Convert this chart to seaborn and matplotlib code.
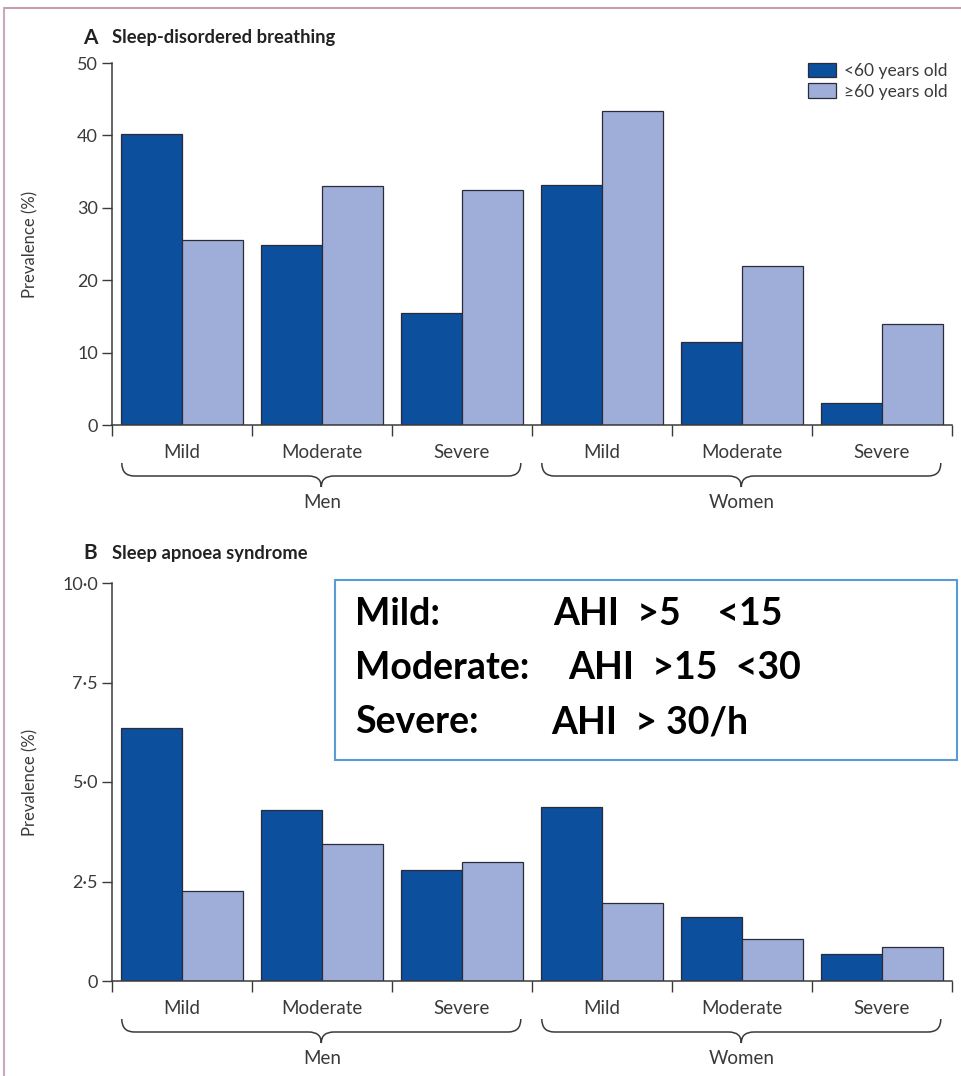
import numpy as np
import pandas as pd
import matplotlib
matplotlib.use('Agg')
import matplotlib.pyplot as plt
import seaborn as sns
from matplotlib.path import Path
from matplotlib.patches import PathPatch, Patch, Rectangle
from matplotlib.lines import Line2D
from matplotlib.ticker import FuncFormatter

# data
groups = ['Men', 'Women']
severities = ['Mild', 'Moderate', 'Severe']
ages = ['<60 years old', '≥60 years old']

sdb_young = [40.2, 24.8, 15.5, 33.1, 11.5, 3.0]
sdb_old = [25.6, 33.0, 32.4, 43.4, 22.0, 14.0]
sas_young = [6.35, 4.30, 2.80, 4.37, 1.60, 0.67]
sas_old = [2.25, 3.45, 3.00, 1.95, 1.05, 0.85]

sdb_ticks = [0, 10, 20, 30, 40, 50]
sas_ticks = [0, 2.5, 5.0, 7.5, 10.0]

box_labels = ['Mild:', 'Moderate:', 'Severe:']
box_rules = ['AHI  >5    <15', 'AHI  >15  <30', 'AHI  > 30/h']

dark = '#0b4f9d'
light = '#9eaed8'
txt = '#3a3a3a'

W, H = 961, 1076
sns.set_theme(style='white')
plt.rcParams['font.family'] = ['Lato', 'DejaVu Sans']

cats = [f'{g} {s}' for g in groups for s in severities]


def long_df(young, old):
    return pd.DataFrame({
        'cat': cats * 2,
        'age': [ages[0]] * 6 + [ages[1]] * 6,
        'val': list(young) + list(old),
    })


def brace(ax, x0, x1, hpx, top=38, mid=51, tip=62, r=0.09):
    t, m, p = -top / hpx, -mid / hpx, -tip / hpx
    xm = (x0 + x1) / 2
    verts = [(x0, t), (x0, m), (x0 + r, m), (xm - r, m), (xm, m), (xm, p),
             (xm, m), (xm + r, m), (x1 - r, m), (x1, m), (x1, t)]
    codes = [Path.MOVETO, Path.CURVE3, Path.CURVE3, Path.LINETO, Path.CURVE3, Path.CURVE3,
             Path.CURVE3, Path.CURVE3, Path.LINETO, Path.CURVE3, Path.CURVE3]
    ax.add_patch(PathPatch(Path(verts, codes), transform=ax.get_xaxis_transform(),
                           fill=False, edgecolor=txt, lw=1.1, clip_on=False))


def panel(ax, young, old, ticks, fmt, hpx):
    df = long_df(young, old)
    sns.barplot(data=df, x='cat', y='val', hue='age', order=cats, hue_order=ages,
                palette=[dark, light], edgecolor='#2b2b3a', linewidth=0.9,
                width=0.865, saturation=1, ax=ax, legend=False)
    ax.set_xlim(-0.5, 5.5)
    ax.set_ylim(ticks[0], ticks[-1])
    ax.set_yticks(ticks)
    ax.yaxis.set_major_formatter(FuncFormatter(fmt))
    ax.set_xticks(range(6))
    ax.set_xticklabels(severities * 2, fontsize=13.5, color=txt)
    ax.set_xticks(np.arange(-0.5, 6, 1), minor=True)
    ax.tick_params(axis='x', which='major', length=0, pad=14)
    ax.tick_params(axis='x', which='minor', length=8, width=1, color=txt, direction='out', bottom=True)
    ax.tick_params(axis='y', length=7, width=1, color=txt, direction='out', left=True,
                   labelsize=13, labelcolor=txt, pad=3)
    for s in ['top', 'right']:
        ax.spines[s].set_visible(False)
    for s in ['left', 'bottom']:
        ax.spines[s].set_color(txt)
        ax.spines[s].set_linewidth(1.1)
    ax.set_xlabel('')
    ax.set_ylabel('Prevalence (%)', fontsize=12, color=txt)
    ax.yaxis.set_label_coords(-0.088, 0.5)
    brace(ax, -0.43, 2.42, hpx)
    brace(ax, 2.57, 5.42, hpx)
    ax.text(1.0, -77 / hpx, 'Men', transform=ax.get_xaxis_transform(),
            ha='center', va='center', fontsize=13.5, color=txt)
    ax.text(4.0, -77 / hpx, 'Women', transform=ax.get_xaxis_transform(),
            ha='center', va='center', fontsize=13.5, color=txt)


fig = plt.figure(figsize=(W / 100, H / 100), dpi=100)
fig.patch.set_facecolor('white')

left, right = 112, 952
axA = fig.add_axes([left / W, 1 - 425 / H, (right - left) / W, 362 / H])
axB = fig.add_axes([left / W, 1 - 981 / H, (right - left) / W, 398 / H])

panel(axA, sdb_young, sdb_old, sdb_ticks, lambda v, p: f'{v:.0f}', 362)
panel(axB, sas_young, sas_old, sas_ticks,
      lambda v, p: '0' if v == 0 else f'{v:.1f}'.replace('.', '·'), 398)

# panel titles
fig.text(83 / W, 1 - 38 / H, 'A', fontsize=15, fontweight='bold', color='#222', va='center')
fig.text(112 / W, 1 - 38 / H, 'Sleep-disordered breathing', fontsize=13.2,
         fontweight='bold', color='#222', va='center')
fig.text(83 / W, 1 - 553 / H, 'B', fontsize=15, fontweight='bold', color='#222', va='center')
fig.text(112 / W, 1 - 553 / H, 'Sleep apnoea syndrome', fontsize=13.2,
         fontweight='bold', color='#222', va='center')

# legend
handles = [Patch(facecolor=dark, edgecolor='#2b2b3a', lw=0.9),
           Patch(facecolor=light, edgecolor='#2b2b3a', lw=0.9)]
fig.legend(handles, ages, loc='upper right', bbox_to_anchor=(955 / W, 1 - 56 / H),
           frameon=False, fontsize=12.5, handlelength=1.6, handleheight=0.9,
           handletextpad=0.5, labelspacing=0.25, labelcolor=txt, borderaxespad=0)

# definition box
fig.add_artist(Rectangle((335 / W, 1 - 760 / H), 622 / W, 180 / H, transform=fig.transFigure,
                         fill=True, facecolor='white', edgecolor='#5b9bd5', lw=1.5))
for i, (lab, rule, rx) in enumerate(zip(box_labels, box_rules, [553, 568, 551])):
    y = 1 - (614 + i * 54) / H
    fig.text(355 / W, y, lab, fontsize=27, fontweight='bold', color='black', va='center')
    fig.text(rx / W, y, rule, fontsize=27, fontweight='bold', color='black', va='center')

# page frame
fig.add_artist(Line2D([4 / W, 1], [1 - 8 / H, 1 - 8 / H], color='#c79bb0', lw=1.5,
                      transform=fig.transFigure))
fig.add_artist(Line2D([4 / W, 4 / W], [0, 1 - 8 / H], color='#c7a9bb', lw=1.5,
                      transform=fig.transFigure))

fig.savefig('out.png', dpi=100)
plt.close(fig)
